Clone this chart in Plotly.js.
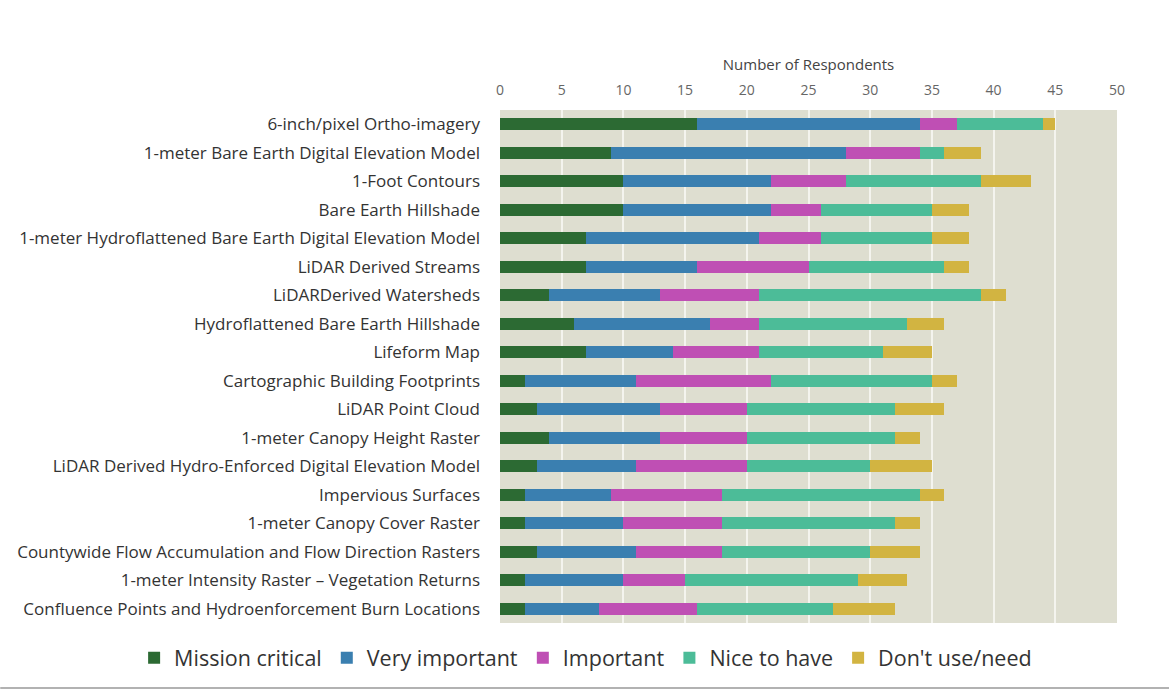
<!DOCTYPE html>
<html>
<head>
<meta charset="utf-8">
<script src="https://cdn.plot.ly/plotly-3.0.1.min.js"></script>
<style>html,body{margin:0;padding:0;background:#fff;}#chart{width:1169px;height:691px;}</style>
</head>
<body>
<div id="chart"></div>
<script>
const categories = [
  "6-inch/pixel Ortho-imagery",
  "1-meter Bare Earth Digital Elevation Model",
  "1-Foot Contours",
  "Bare Earth Hillshade",
  "1-meter Hydroflattened Bare Earth Digital Elevation Model",
  "LiDAR Derived Streams",
  "LiDARDerived Watersheds",
  "Hydroflattened Bare Earth Hillshade",
  "Lifeform Map",
  "Cartographic Building Footprints",
  "LiDAR Point Cloud",
  "1-meter Canopy Height Raster",
  "LiDAR Derived Hydro-Enforced Digital Elevation Model",
  "Impervious Surfaces",
  "1-meter Canopy Cover Raster",
  "Countywide Flow Accumulation and Flow Direction Rasters",
  "1-meter Intensity Raster \u2013 Vegetation Returns",
  "Confluence Points and Hydroenforcement Burn Locations"
];
const missionCritical = [16, 9, 10, 10, 7, 7, 4, 6, 7, 2, 3, 4, 3, 2, 2, 3, 2, 2];
const veryImportant   = [18, 19, 12, 12, 14, 9, 9, 11, 7, 9, 10, 9, 8, 7, 8, 8, 8, 6];
const important       = [3, 6, 6, 4, 5, 9, 8, 4, 7, 11, 7, 7, 9, 9, 8, 7, 5, 8];
const niceToHave      = [7, 2, 11, 9, 9, 11, 18, 12, 10, 13, 12, 12, 10, 16, 14, 12, 14, 11];
const dontUse         = [1, 3, 4, 3, 3, 2, 2, 3, 4, 2, 4, 2, 5, 2, 2, 4, 4, 5];
const seriesNames = ["Mission critical", "Very important", "Important", "Nice to have", "Don't use/need"];
const xTicks = [0, 5, 10, 15, 20, 25, 30, 35, 40, 45, 50];

const seriesValues = [missionCritical, veryImportant, important, niceToHave, dontUse];
const colors = ["#2c6a33", "#3a7fb0", "#bf4fb4", "#4cbc98", "#d2b441"];

const traces = seriesValues.map((vals, i) => ({
  type: "bar",
  orientation: "h",
  name: seriesNames[i],
  x: vals,
  y: categories,
  marker: {color: colors[i], line: {width: 0}},
  hoverinfo: "x+y+name"
}));

const layout = {
  width: 1169,
  height: 691,
  barmode: "stack",
  bargap: 0.57,
  paper_bgcolor: "#ffffff",
  plot_bgcolor: "#deded0",
  margin: {l: 500, r: 52, t: 110, b: 68, pad: 0, autoexpand: false},
  font: {family: "Open Sans, sans-serif", color: "#333"},
  xaxis: {
    side: "top",
    range: [0, 50],
    tickvals: xTicks,
    ticktext: xTicks.map(String),
    showgrid: true,
    gridcolor: "#f4f4ee",
    gridwidth: 2,
    zeroline: false,
    showline: false,
    ticks: "",
    ticklabelstandoff: 11,
    tickfont: {size: 14, color: "#666"},
    title: {text: "Number of Respondents", font: {size: 15, color: "#444"}, standoff: 5},
    automargin: false,
    fixedrange: true
  },
  yaxis: {
    autorange: "reversed",
    automargin: false,
    ticks: "",
    ticklabelstandoff: 19,
    tickfont: {size: 17, color: "#333"},
    showgrid: false,
    zeroline: false,
    showline: false,
    fixedrange: true
  },
  showlegend: true,
  legend: {
    orientation: "h",
    x: -0.593,
    xanchor: "left",
    y: -0.068,
    yanchor: "middle",
    bgcolor: "rgba(0,0,0,0)",
    font: {size: 21.5, color: "#333"},
    itemwidth: 30,
    traceorder: "normal",
    tracegroupgap: 0
  },
  shapes: [{
    type: "line", xref: "paper", yref: "paper",
    x0: -0.81, x1: 1.085, y0: -0.1267, y1: -0.1267,
    line: {color: "#999", width: 1.5}
  }]
};

Plotly.newPlot("chart", traces, layout, {displayModeBar: false, staticPlot: true});
</script>
</body>
</html>
